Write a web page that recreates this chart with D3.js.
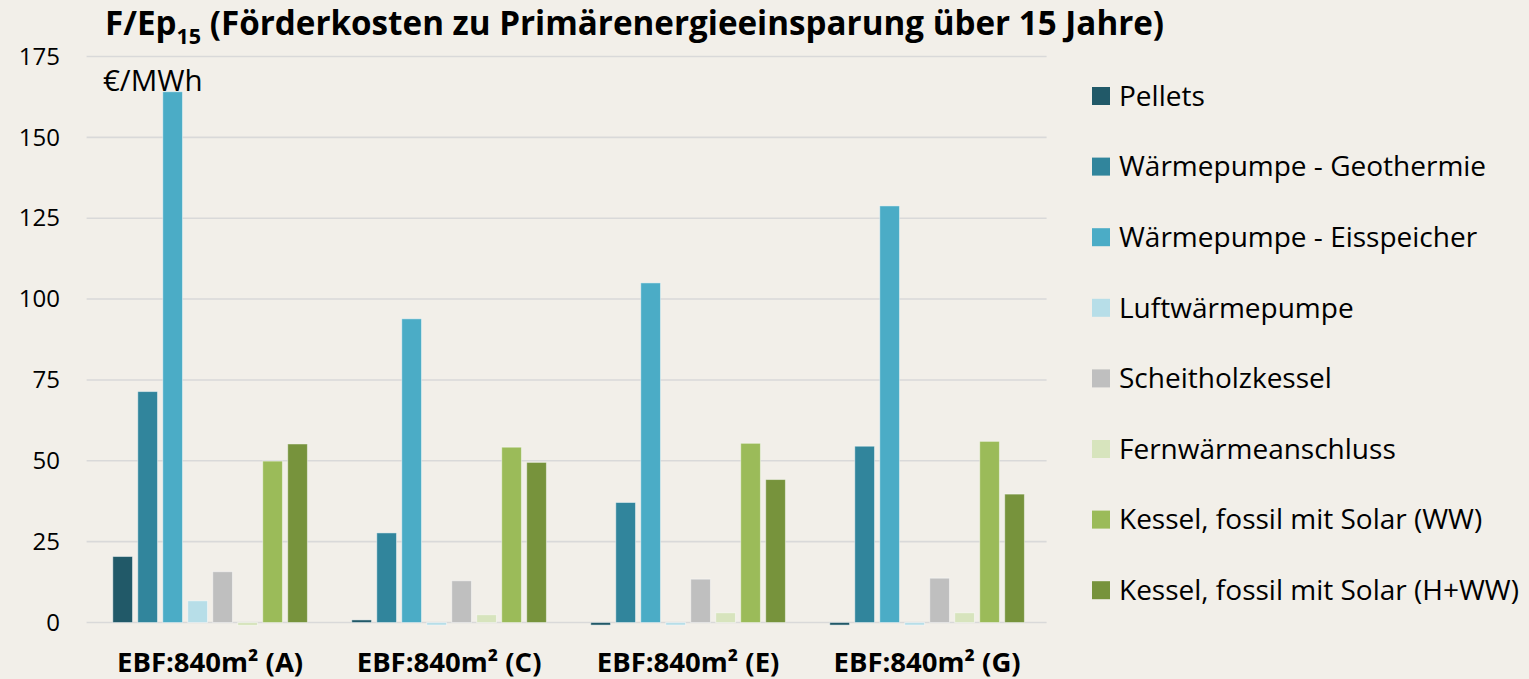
<!DOCTYPE html>
<html>
<head>
<meta charset="utf-8">
<script src="https://cdn.jsdelivr.net/npm/d3@7"></script>
<style>
  html, body { margin: 0; padding: 0; background: #f2efe9; }
  svg { display: block; font-family: "Open Sans", sans-serif; }
</style>
</head>
<body>
<div id="chart"></div>
<script>
// Förderkosten zu Primärenergieeinsparung
const categories = ["EBF:840m² (A)", "EBF:840m² (C)", "EBF:840m² (E)", "EBF:840m² (G)"];
const seriesNames = [
  "Pellets",
  "Wärmepumpe - Geothermie",
  "Wärmepumpe - Eisspeicher",
  "Luftwärmepumpe",
  "Scheitholzkessel",
  "Fernwärmeanschluss",
  "Kessel, fossil mit Solar (WW)",
  "Kessel, fossil mit Solar (H+WW)"
];
// one array per series, values for A, C, E, G
const pellets     = [20.4, 0.8, -0.8, -0.8];
const geothermie  = [71.4, 27.7, 37.1, 54.5];
const eisspeicher = [164.1, 93.9, 105.0, 128.8];
const luft        = [6.7, -0.8, -0.8, -0.8];
const scheitholz  = [15.7, 12.9, 13.4, 13.7];
const fernwaerme  = [-0.9, 2.4, 3.0, 3.0];
const kesselWW    = [49.9, 54.2, 55.4, 56.0];
const kesselHWW   = [55.2, 49.5, 44.2, 39.7];
const yTicks = [0, 25, 50, 75, 100, 125, 150, 175];
const colors = ["#215968", "#31859c", "#4bacc6", "#b7dee8", "#bfbfbf", "#d7e4bd", "#9bbb59", "#77933c"];

const seriesValues = [pellets, geothermie, eisspeicher, luft, scheitholz, fernwaerme, kesselWW, kesselHWW];

const width = 1529, height = 679;
const svg = d3.select("#chart").append("svg")
  .attr("width", width)
  .attr("height", height);

svg.append("rect").attr("width", width).attr("height", height).attr("fill", "#f2efe9");

const plotLeft = 90.6, plotRight = 1046.6;
const x0 = d3.scaleBand().domain(categories).range([plotLeft, plotRight]);
const x1 = d3.scaleBand().domain(d3.range(seriesNames.length))
  .range([22.2, x0.bandwidth() - 22.2])
  .paddingInner(0.212);
const y = d3.scaleLinear().domain([0, 175]).range([622.5, 56.5]);

// gridlines
svg.append("g")
  .selectAll("line")
  .data(yTicks)
  .enter()
  .append("line")
  .attr("x1", plotLeft - 4)
  .attr("x2", plotRight)
  .attr("y1", d => y(d))
  .attr("y2", d => y(d))
  .style("stroke", "#d9d9d9")
  .style("stroke-width", 1.6);

// y axis labels
const yAxis = d3.axisLeft(y).tickValues(yTicks).tickSize(0).tickPadding(0);
const gy = svg.append("g").attr("transform", "translate(60,0)").call(yAxis);
gy.select(".domain").remove();
gy.selectAll("text")
  .style("font-family", "'Open Sans', sans-serif")
  .style("font-size", "24px")
  .style("fill", "#000");

// bars
const groups = svg.append("g")
  .selectAll("g")
  .data(categories)
  .enter()
  .append("g")
  .attr("transform", d => `translate(${x0(d)},0)`);

groups.selectAll("rect")
  .data((c, ci) => seriesValues.map((vals, si) => ({ si: si, v: vals[ci] })))
  .enter()
  .append("rect")
  .attr("x", d => x1(d.si))
  .attr("width", x1.bandwidth())
  .attr("y", d => y(Math.max(0, d.v)))
  .attr("height", d => Math.abs(y(d.v) - y(0)))
  .style("fill", d => colors[d.si])
  .style("stroke", "rgba(255,255,255,0.45)")
  .style("stroke-width", 1);

// x axis labels
const xAxis = d3.axisBottom(x0).tickSize(0).tickPadding(0);
const gx = svg.append("g").attr("transform", "translate(0,652)").call(xAxis);
gx.select(".domain").remove();
gx.selectAll("text")
  .style("font-family", "'Open Sans', sans-serif")
  .style("font-size", "27.5px")
  .style("font-weight", "bold")
  .style("fill", "#000");

// unit label
svg.append("text")
  .attr("x", 103)
  .attr("y", 91)
  .style("font-size", "29.5px")
  .text("€/MWh");

// title
const title = svg.append("text")
  .attr("x", 105)
  .attr("y", 35)
  .style("font-size", "33.2px")
  .style("font-weight", "bold");
title.append("tspan").text("F/Ep");
title.append("tspan").attr("dy", 9).style("font-size", "21.5px").text("15");
title.append("tspan").attr("dy", -9).text(" (Förderkosten zu Primärenergieeinsparung über 15 Jahre)");

// legend
const legend = svg.append("g")
  .selectAll("g")
  .data(seriesNames)
  .enter()
  .append("g")
  .attr("transform", (d, i) => `translate(1092,${96 + i * 70.6})`);

legend.append("rect")
  .attr("x", 0)
  .attr("y", -9)
  .attr("width", 18)
  .attr("height", 18)
  .style("fill", (d, i) => colors[i]);

legend.append("text")
  .attr("x", 27)
  .attr("y", 0)
  .attr("dy", "0.35em")
  .style("font-size", "28px")
  .text(d => d);
</script>
</body>
</html>
